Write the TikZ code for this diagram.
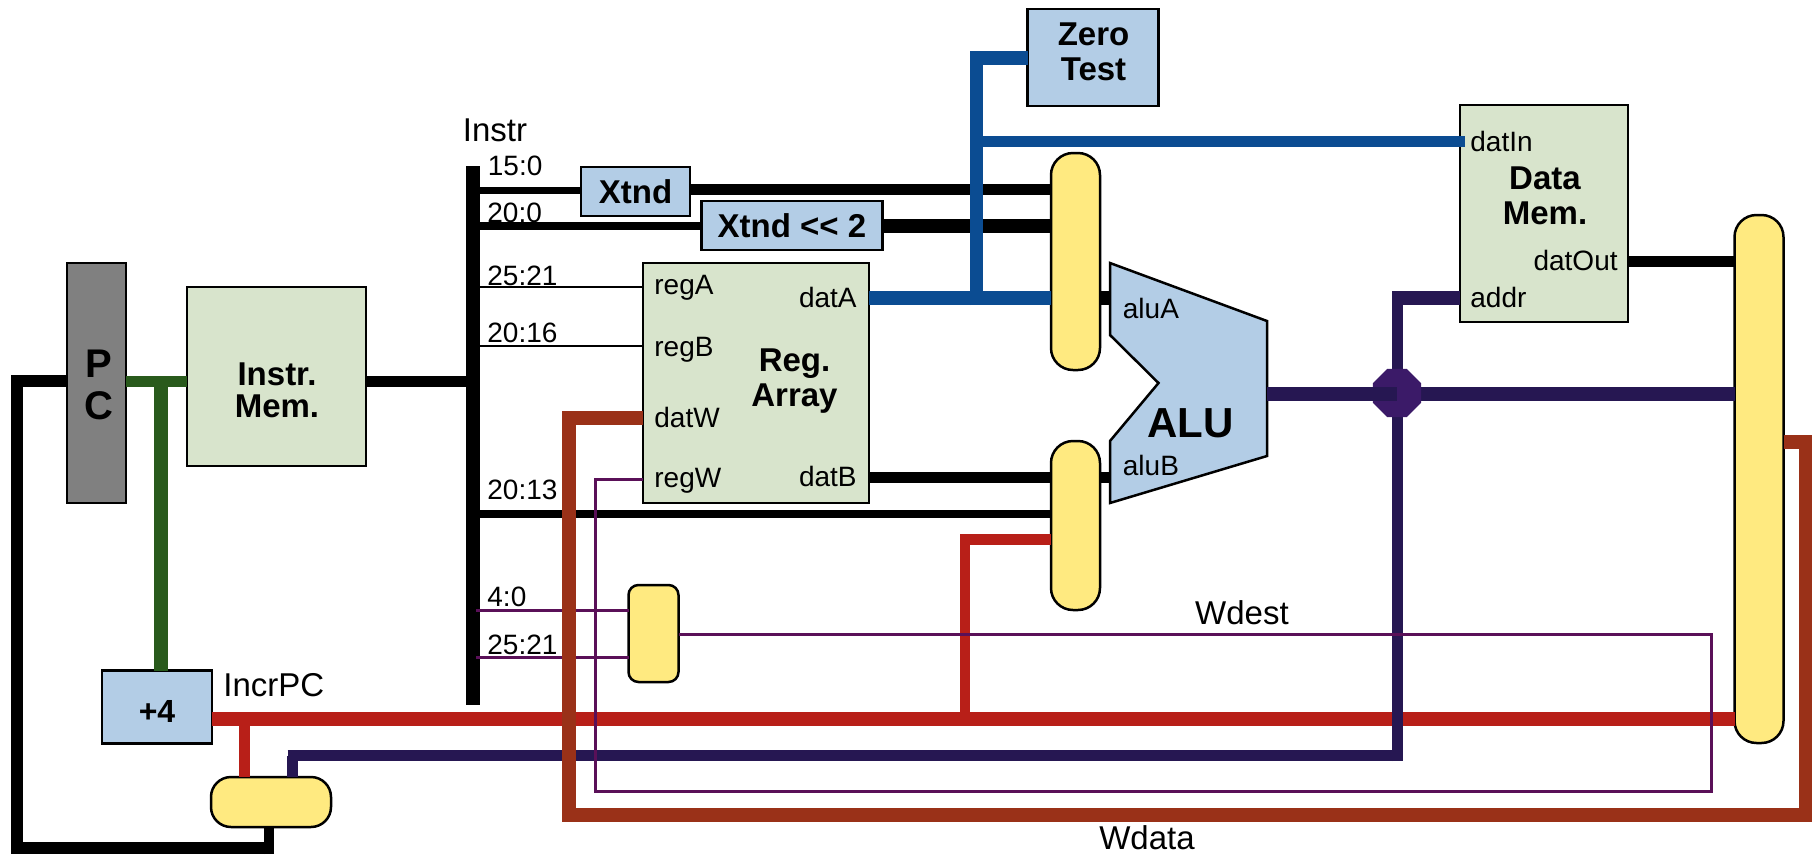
\documentclass[tikz,border=0pt]{standalone}
\usepackage{fontspec}
\setmainfont{Liberation Sans}
\usetikzlibrary{shapes.geometric}
\definecolor{cgray}{HTML}{808080}
\definecolor{cmem}{HTML}{D8E4CC}
\definecolor{cblue}{HTML}{B3CDE6}
\definecolor{cyel}{HTML}{FFEA80}
\definecolor{cgreen}{HTML}{295A1C}
\definecolor{cbrown}{HTML}{9A3118}
\definecolor{cred}{HTML}{B81F18}
\definecolor{cnavy}{HTML}{261752}
\definecolor{cpurple}{HTML}{5A1058}
\definecolor{cwire}{HTML}{0B4C92}
\definecolor{cjunc}{HTML}{3B1A68}
\tikzset{
  lw/.style={line width=#1*0.5pt},
  blockbox/.style 2 args={draw=black,line width=1.25pt,inner sep=0pt,outer sep=0pt,minimum width=#1*0.5pt,minimum height=#2*0.5pt},
  mem/.style={fill=cmem},
  calc/.style={fill=cblue},
  mux/.style={fill=cyel,rounded corners=#1*0.5pt},
  wire/.style={line cap=butt,line join=miter},
  lab/.style={inner sep=0pt,font=\fontsize{14}{16}\selectfont,text height=10pt,text depth=0pt},
  biglab/.style={inner sep=0pt,font=\fontsize{16.5}{18}\selectfont,text height=11.8pt,text depth=0pt},
  title/.style={inner sep=0pt,align=center,font=\bfseries\fontsize{16.5}{#1}\selectfont},
}
\begin{document}
\begin{tikzpicture}[x=0.5pt,y=-0.5pt]
\useasboundingbox (0,0) rectangle (1812,859);
% blocks
\node[blockbox={59}{240},fill=cgray] (pc) at (96.5,383) {};
\node[blockbox={179}{179},mem] (imem) at (276.5,376.5) {};
\node[fill=black,inner sep=0pt,outer sep=0pt,minimum width=7pt,minimum height=269.5pt] (bus) at (473,435.5) {};
\node[blockbox={110}{73},calc] (incr) at (157,707) {};
\node[blockbox={120}{50},mux={20}] (muxpc) at (271,802) {};
\node[blockbox={109}{49},calc,font=\bfseries\fontsize{16.5}{18}\selectfont] (xtnd) at (635.5,191.5) {Xtnd};
\node[blockbox={181}{49},calc,font=\bfseries\fontsize{16.5}{18}\selectfont] (xtnds) at (792,225.5) {Xtnd {<}{<} 2};
\node[blockbox={226}{240},mem] (reg) at (756,383) {};
\node[blockbox={131}{97},calc] (zero) at (1093,57.5) {};
\node[blockbox={49}{217},mux={22}] (muxa) at (1075.5,261.5) {};
\node[blockbox={49}{169},mux={22}] (muxb) at (1075.5,525.5) {};
\node[blockbox={50}{97},mux={10}] (muxs) at (653.5,633.5) {};
\node[blockbox={168}{217},mem] (dmem) at (1544,213.5) {};
\node[blockbox={49}{528},mux={22}] (muxr) at (1759,479) {};
\draw[line width=1.25pt,fill=cblue,line join=miter] (1110,263) coordinate (alutl) -- (1267,321) coordinate (alutr) -- (1267,456) coordinate (alubr) -- (1110,503) coordinate (alubl) -- (1110,441) -- (1158.5,383) -- (1110,335) -- cycle;
\coordinate (alua) at (1110,298);
\coordinate (alub) at (1110,477);
\coordinate (aluout) at (1267,394);
% named bends
\coordinate (pcy) at (0,381);
\coordinate (tap) at (161,381);
\coordinate (fbl) at (16.5,381);
\coordinate (fbb) at (16.5,848);
\coordinate (fbr) at (269,848);
\coordinate (incry) at (0,719);
\coordinate (rtap) at (244.5,719);
\coordinate (btap) at (965,719);
\coordinate (bmid) at (965,539.5);
\coordinate (navya) at (292.5,755.5);
\coordinate (navyb) at (1397.5,755.5);
\coordinate (navyc) at (1397.5,291);
\coordinate (navyd) at (1392,298);
\coordinate (bz) at (976.5,58);
\coordinate (bt) at (976.5,305);
\coordinate (bi) at (976.5,141.5);
\coordinate (bmt) at (970,58);
\coordinate (wd1) at (1805.5,442);
\coordinate (wd2) at (1805.5,815);
\coordinate (wd3) at (569,815);
\coordinate (wd4) at (569,418);
\coordinate (pa) at (595.5,479);
\coordinate (pb) at (595.5,791);
\coordinate (pc2) at (1711,791);
\coordinate (pd) at (1711,634);
% black wires
\draw[wire,lw=11,black] (imem.east |- pcy) -- (bus.west |- pcy);
\draw[wire,lw=7,black] (bus.east |- 0,190) -- (xtnd.west |- 0,190);
\draw[wire,lw=11,black] (xtnd.east |- 0,189.5) -- (muxa.west |- 0,189.5);
\draw[wire,lw=7.5,black] (bus.east |- 0,226) -- (xtnds.west |- 0,226);
\draw[wire,lw=13.5,black] (xtnds.east |- 0,226) -- (muxa.west |- 0,226);
\draw[wire,lw=2.5,black] (bus.east |- 0,287) -- (reg.west |- 0,287);
\draw[wire,lw=2.5,black] (bus.east |- 0,346) -- (reg.west |- 0,346);
\draw[wire,lw=8,black] (bus.east |- 0,514) -- (muxb.west |- 0,514);
\draw[wire,lw=11,black] (reg.east |- alub) -- (muxb.west |- alub);
\draw[wire,lw=11,black] (muxb.east |- alub) -- (alub);
\draw[wire,lw=14,black] (muxa.east |- alua) -- (alua);
\draw[wire,lw=11,black] (dmem.east |- 0,261.5) -- (muxr.west |- 0,261.5);
\draw[wire,lw=12,black] (pc.west |- pcy) -- (fbl) -- (fbb) -- (fbr);
\draw[wire,lw=10,black] (269,854) -- (muxpc.south -| fbr);
% green
\draw[wire,lw=11,cgreen] (pc.east |- pcy) -- (imem.west |- pcy);
\draw[wire,lw=14,cgreen] (tap) -- (incr.north -| tap);
% blue
\draw[wire,lw=13,cwire] (bt) -- (976.5,51);
\draw[wire,lw=14,cwire] (bmt) -- (zero.west |- bz);
\draw[wire,lw=14,cwire] (reg.east |- alua) -- (muxa.west |- alua);
\draw[wire,lw=11,cwire] (bi) -- ([xshift=2.5pt]dmem.west |- bi);
% red
\draw[wire,lw=14,cred] (incr.east |- incry) -- (muxr.west |- incry);
\draw[wire,lw=10.5,cred] (rtap) -- (muxpc.north -| rtap);
\draw[wire,lw=10,cred] (btap) -- (bmid);
\draw[wire,lw=11,cred] (960,539.5) -- (muxb.west |- bmid);
% navy
\draw[wire,lw=10.5,cnavy] (muxpc.north -| navya) -- (navya);
\draw[wire,lw=11,cnavy] (287.5,755.5) -- (navyb);
\draw[wire,lw=10.5,cnavy] (1397.5,761) -- (navyc);
\draw[wire,lw=14,cnavy] (navyd) -- (dmem.west |- navyd);
\draw[wire,lw=14,cnavy] (1397,394) -- (muxr.west |- aluout);
\node[regular polygon,regular polygon sides=8,fill=cjunc,inner sep=0pt,outer sep=0pt,minimum size=26pt] (junc) at (1397,393) {};
\draw[wire,lw=14,cnavy] (aluout) -- (junc.center |- aluout);
% short purple
\draw[wire,lw=3,cpurple] ([xshift=-2pt]bus.east |- 0,610) -- (muxs.west |- 0,610);
\draw[wire,lw=3,cpurple] ([xshift=-2pt]bus.east |- 0,657.5) -- (muxs.west |- 0,657.5);
% brown
\draw[wire,lw=13.5,cbrown] (muxr.east |- wd1) -- (wd1) -- (wd2) -- (wd3) -- (wd4) -- (reg.west |- wd4);
% long purple
\draw[wire,lw=3,cpurple] (reg.west |- pa) -- (pa) -- (pb) -- (pc2) -- (pd) -- (muxs.east |- pd);
% titles
\node[inner sep=0pt,align=center,font=\bfseries\fontsize{20}{21}\selectfont] (tpc) at (98.5,385) {P\\C};
\node[title=16] (timem) at (277,390) {Instr.\\Mem.};
\node[title=17.5] (treg) at (794.5,381) {Reg.\\Array};
\node[title=17.5] (tdmem) at (1545,196) {Data\\Mem.};
\node[title=17.5] (tzero) at (1093.5,52) {Zero\\Test};
\node[inner sep=0pt,font=\bfseries\fontsize{16}{18}\selectfont] (tincr) at (157,711) {+4};
\node[inner sep=0pt,font=\bfseries\fontsize{21}{24}\selectfont] (talu) at (1190.5,423) {ALU};
% port labels
\node[lab,anchor=west] (lrega) at (654,284.5) {regA};
\node[lab,anchor=west] (lregb) at (654,346) {regB};
\node[lab,anchor=west] (ldatw) at (654,417) {datW};
\node[lab,anchor=west] (lregw) at (654,477) {regW};
\node[lab,anchor=east] (ldata) at (857,297) {datA};
\node[lab,anchor=east] (ldatb) at (857,476) {datB};
\node[lab,anchor=west] (lalua) at (1122.5,308) {aluA};
\node[lab,anchor=west] (lalub) at (1122.5,465) {aluB};
\node[lab,anchor=west] (ldatin) at (1470,141) {datIn};
\node[lab,anchor=west] (laddr) at (1470,297) {addr};
\node[lab,anchor=east] (ldatout) at (1618,260) {datOut};
% bit-field labels
\node[lab,anchor=west] (b1) at (487.5,165) {15:0};
\node[lab,anchor=west] (b2) at (487,212) {20:0};
\node[lab,anchor=west] (b3) at (487,275) {25:21};
\node[lab,anchor=west] (b4) at (487,332) {20:16};
\node[lab,anchor=west] (b5) at (487,489) {20:13};
\node[lab,anchor=west] (b6) at (487,596) {4:0};
\node[lab,anchor=west] (b7) at (487,644) {25:21};
% signal labels
\node[biglab,anchor=west] (linstr) at (462.5,130) {Instr};
\node[biglab,anchor=west] (lincr) at (223,685) {IncrPC};
\node[biglab] (lwdest) at (1242,613) {Wdest};
\node[biglab] (lwdata) at (1147,838) {Wdata};
\end{tikzpicture}
\end{document}
